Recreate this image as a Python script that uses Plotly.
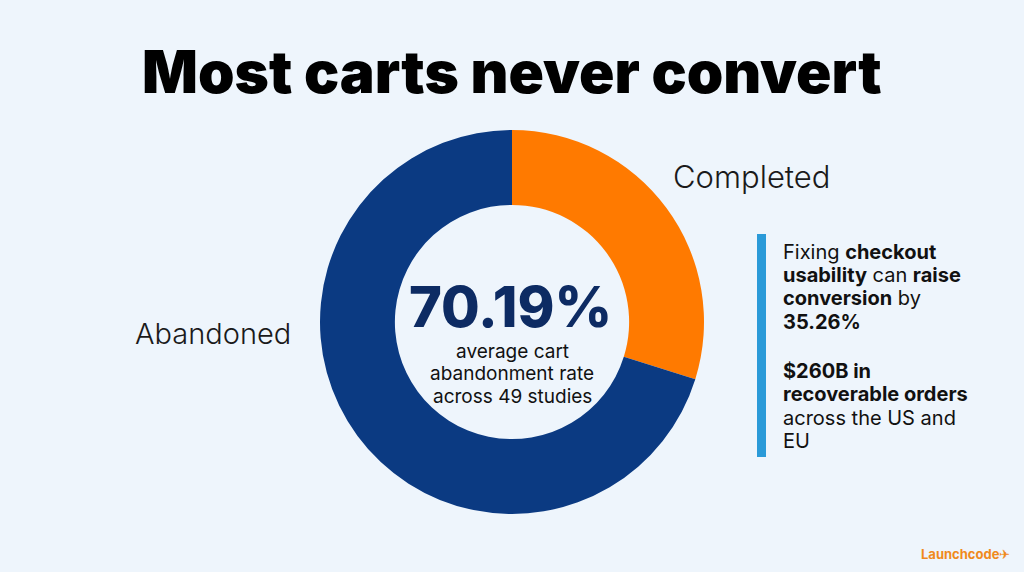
import plotly.graph_objects as go

categories = ["Completed", "Abandoned"]
shares = [29.81, 70.19]
slice_colors = ["#FF7A00", "#0B3A82"]

headline = "70.19%"
headline_sub = ["average cart", "abandonment rate", "across 49 studies"]
title_text = "Most carts never convert"
side_note_1 = ["Fixing <b>checkout</b>", "<b>usability</b> can <b>raise</b>",
               "<b>conversion</b> by", "<b>35.26%</b>"]
side_note_2 = ["<b>$260B in</b>", "<b>recoverable orders</b>",
               "across the US and", "EU"]
brand = "Launchcode"

BG = "#EEF5FC"
W, H = 1024, 572

fig = go.Figure()
fig.add_trace(go.Pie(
    labels=categories,
    values=shares,
    hole=0.61,
    sort=False,
    direction="clockwise",
    rotation=0,
    marker=dict(colors=slice_colors, line=dict(width=0)),
    textinfo="none",
    hoverinfo="label+percent",
    showlegend=False,
    domain=dict(x=[320 / W, 704 / W], y=[1 - 514 / H, 1 - 130 / H]),
))

def px(x, y):
    return x / W, 1 - y / H

ann = []
# title
x, y = px(512, 71)
ann.append(dict(x=x, y=y, text=title_text, showarrow=False,
                font=dict(family="Inter", size=58.5, color="#000000", weight=900),
                xanchor="center", yanchor="middle"))
# center headline
x, y = px(510, 307)
ann.append(dict(x=x, y=y, text=headline, showarrow=False,
                font=dict(family="Inter", size=56, color="#0D2B63", weight=800),
                xanchor="center", yanchor="middle"))
for i, line in enumerate(headline_sub):
    x, y = px(512, 351 + 22.5 * i)
    ann.append(dict(x=x, y=y, text=line, showarrow=False,
                    font=dict(family="Inter", size=19, color="#111111"),
                    xanchor="center", yanchor="middle"))
# slice labels
x, y = px(671, 176)
ann.append(dict(x=x, y=y, text=categories[0], showarrow=False,
                font=dict(family="Inter", size=31, color="#1a1a1a", weight=300),
                xanchor="left", yanchor="middle"))
x, y = px(293, 333)
ann.append(dict(x=x, y=y, text=categories[1], showarrow=False,
                font=dict(family="Inter", size=29, color="#1a1a1a", weight=300),
                xanchor="right", yanchor="middle"))
# side notes
for i, line in enumerate(side_note_1):
    x, y = px(781, 252 + 23.2 * i)
    ann.append(dict(x=x, y=y, text=line, showarrow=False, align="left",
                    font=dict(family="Inter", size=20, color="#111111"),
                    xanchor="left", yanchor="middle"))
for i, line in enumerate(side_note_2):
    x, y = px(781, 371 + 23.3 * i)
    ann.append(dict(x=x, y=y, text=line, showarrow=False, align="left",
                    font=dict(family="Inter", size=20, color="#111111"),
                    xanchor="left", yanchor="middle"))
# brand
x, y = px(1012, 554)
ann.append(dict(x=x, y=y, text=f"<b>{brand}</b>✈", showarrow=False,
                font=dict(family="Inter", size=13, color="#F08A1C"),
                xanchor="right", yanchor="middle"))

fig.update_layout(
    width=W, height=H,
    margin=dict(l=0, r=0, t=0, b=0),
    paper_bgcolor=BG, plot_bgcolor=BG,
    annotations=ann,
    shapes=[dict(type="rect", xref="paper", yref="paper",
                 x0=757 / W, x1=766 / W, y0=1 - 457 / H, y1=1 - 234 / H,
                 fillcolor="#2A9AD8", line=dict(width=0))],
)

fig.write_html("out.html")
